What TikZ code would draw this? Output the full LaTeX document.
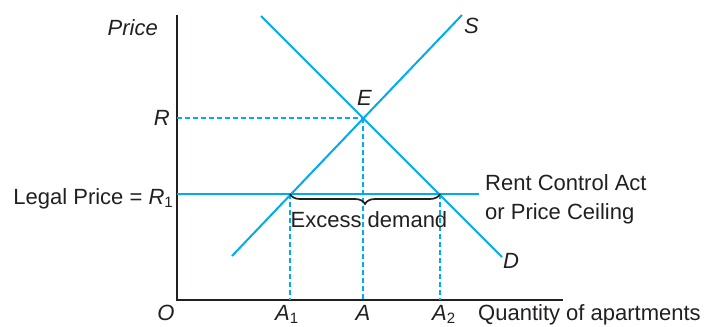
\documentclass[tikz,border=0pt]{standalone}
\usepackage{fontspec}
\setmainfont{Liberation Sans}
\usetikzlibrary{decorations.pathreplacing}
\definecolor{cy}{RGB}{0,172,236}
\definecolor{ink}{RGB}{35,31,32}
\newcommand{\sbs}[1]{\raisebox{-0.18em}{\fontsize{15}{15}\selectfont #1}}
\begin{document}
\begin{tikzpicture}[x=1pt,y=-1pt,
  font=\fontsize{22}{26}\selectfont,
  axisline/.style={ink, line width=1.8pt},
  curve/.style={cy, line width=2pt},
  guide/.style={cy, line width=2pt, dash pattern=on 5pt off 3pt},
  lab/.style={inner sep=0pt, text=ink}]
\useasboundingbox (0,0) rectangle (705,327);
% axes
\coordinate (O) at (177,300);
\coordinate (Ytop) at (177,15);
\coordinate (Xend) at (563,300);
\draw[axisline] (Ytop) -- (O) -- (Xend);
% key points
\coordinate (E) at (363,118);
\coordinate (P1) at (290,194);
\coordinate (P2) at (440,194);
\coordinate (Rax) at (177,118);
\coordinate (R1ax) at (177,194);
\coordinate (Cend) at (479,194);
\coordinate (Sbot) at (232,256);
\coordinate (Stop) at (462,15);
\coordinate (Dtop) at (261,16);
\coordinate (Dbot) at (502,257);
\coordinate (A1ax) at (290,300);
\coordinate (Aax) at (363,300);
\coordinate (A2ax) at (440,300);
% guides
\draw[guide] (Rax) -- (E);
\draw[guide] (E) -- (Aax);
\draw[guide] (P1) -- (A1ax);
\draw[guide] (P2) -- (A2ax);
% curves
\draw[curve] (R1ax) -- (Cend);
\draw[curve] (Sbot) -- (Stop);
\draw[curve] (Dtop) -- (Dbot);
% brace
\draw[ink, line width=1.7pt, decorate, decoration={brace, mirror, amplitude=10pt}] (P1) -- (P2);
% labels
\node[lab, anchor=base east] (lprice) at (158,35) {\textit{Price}};
\node[lab, anchor=base east] (lR) at (170,125) {\textit{R}};
\node[lab, anchor=base east] (lR1) at (173,204) {Legal Price = \textit{R}\sbs{1}};
\node[lab, anchor=base] (lO) at (166,320) {\textit{O}};
\node[lab, anchor=base west] (lA1) at (275,320) {\textit{A}\sbs{1}};
\node[lab, anchor=base] (lA) at (363,320) {\textit{A}};
\node[lab, anchor=base west] (lA2) at (432,320) {\textit{A}\sbs{2}};
\node[lab, anchor=base west] (lQ) at (478,320) {Quantity of apartments};
\node[lab, anchor=base west] (lE) at (357,105) {\textit{E}};
\node[lab, anchor=base west] (lS) at (464,33) {\textit{S}};
\node[lab, anchor=base west] (lD) at (503,268) {\textit{D}};
\node[lab, anchor=base west] (lrc1) at (485,190) {Rent Control Act};
\node[lab, anchor=base west] (lrc2) at (485,219) {or Price Ceiling};
\node[lab, anchor=base] (lex) at (369,227) {Excess demand};
\end{tikzpicture}
\end{document}
